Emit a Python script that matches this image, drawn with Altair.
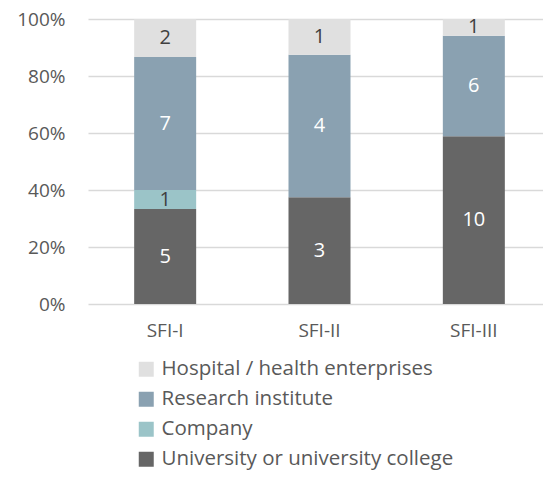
import altair as alt
import pandas as pd

programs = ["SFI-I", "SFI-II", "SFI-III"]
categories = ["University or university college", "Company", "Research institute", "Hospital / health enterprises"]
university = [5, 3, 10]
company = [1, 0, 0]
research = [7, 4, 6]
hospital = [2, 1, 1]

colors = ["#666666", "#9BC4C8", "#8AA1B1", "#E0E0E0"]
label_colors = ["#FFFFFF", "#404040", "#FFFFFF", "#404040"]

rows = []
for ci, (cat, vals) in enumerate(zip(categories, [university, company, research, hospital])):
    for p, v in zip(programs, vals):
        rows.append({"program": p, "category": cat, "value": v, "ord": ci, "lab": label_colors[ci]})
df = pd.DataFrame(rows)

font = "Open Sans"
legend_order = categories[::-1]
legend_colors = colors[::-1]

base = alt.Chart(df)

bars = base.mark_bar(size=62).encode(
    x=alt.X("program:N", title=None, sort=programs,
            scale=alt.Scale(paddingInner=0.6, paddingOuter=0.3),
            axis=alt.Axis(labelAngle=0, domain=False, ticks=False, labelPadding=17,
                          labelFont=font, labelFontSize=19, labelColor="#595959")),
    y=alt.Y("value:Q", stack="normalize", title=None,
            scale=alt.Scale(domain=[0, 1]),
            axis=alt.Axis(format="%", values=[0, 0.2, 0.4, 0.6, 0.8, 1.0], domain=False, ticks=False,
                          labelPadding=23, labelFont=font, labelFontSize=19, labelColor="#595959",
                          gridColor="#D9D9D9", gridWidth=1.5)),
    color=alt.Color("category:N", scale=alt.Scale(domain=legend_order, range=legend_colors),
                    legend=alt.Legend(title=None, orient="none", legendX=48, legendY=340,
                                      direction="vertical", symbolType="square", symbolSize=225,
                                      symbolStrokeWidth=0, labelFont=font, labelFontSize=20.5,
                                      labelColor="#595959", rowPadding=9, labelOffset=5,
                                      labelLimit=450, padding=0)),
    order=alt.Order("ord:Q", sort="ascending"),
)

labels = base.transform_filter(
    alt.datum.value > 0
).transform_joinaggregate(
    total="sum(value)", groupby=["program"]
).transform_window(
    cum="sum(value)", sort=[alt.SortField("ord")], groupby=["program"], frame=[None, 0]
).transform_calculate(
    mid="(datum.cum - datum.value / 2) / datum.total"
).mark_text(font=font, fontSize=20, baseline="middle").encode(
    x=alt.X("program:N", sort=programs),
    y=alt.Y("mid:Q"),
    text=alt.Text("value:Q"),
    color=alt.Color("lab:N", scale=None),
)

chart = alt.layer(bars, labels).properties(
    width=463, height=285,
    autosize=alt.AutoSizeParams(type="none"),
    padding={"left": 80, "top": 11, "right": -8, "bottom": 168},
).configure_view(stroke=None)

chart.save("out.html", embed_options={"renderer": "svg", "actions": False})
